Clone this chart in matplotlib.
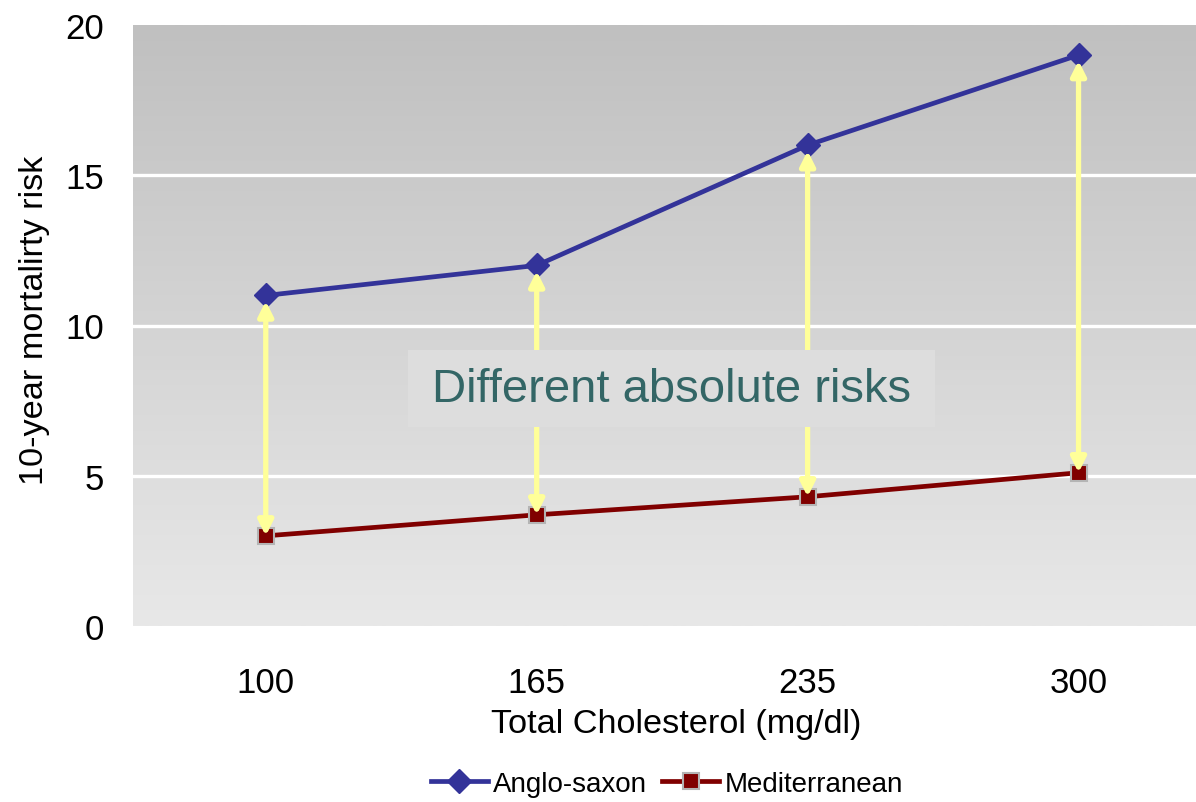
import numpy as np
import matplotlib
matplotlib.use("Agg")
import matplotlib.pyplot as plt
from matplotlib.patches import Rectangle

plt.rcParams['font.family'] = ['Liberation Sans', 'DejaVu Sans']

cholesterol = ["100", "165", "235", "300"]
anglo_saxon = [11, 12, 16, 19]
mediterranean = [3, 3.7, 4.3, 5.1]

fig = plt.figure(figsize=(11.96, 8.03), dpi=100)
W, H = 1196, 803
ax = fig.add_axes([133 / W, 1 - 627 / H, (1214 - 133) / W, (627 - 26) / H])

x = np.arange(len(cholesterol))
ax.set_xlim(-0.49, 3.5)
ax.set_ylim(0, 20)

# vertical grey gradient background
grad = np.linspace(0, 1, 256).reshape(-1, 1)
ax.imshow(grad, cmap=matplotlib.colors.LinearSegmentedColormap.from_list(
    "bg", ["#e8e8e8", "#c0c0c0"]), extent=[-0.49, 3.5, 0, 20],
    origin="lower", aspect="auto", zorder=0)

for v in [5, 10, 15]:
    ax.axhline(v, color="white", lw=2.4, zorder=1)

ax.plot(x, anglo_saxon, color="#333399", lw=3.4, marker="D", ms=12,
        mfc="#333399", mec="#333399", zorder=3, label="Anglo-saxon")
ax.plot(x, mediterranean, color="#800000", lw=3.4, marker="s", ms=11,
        mfc="#800000", mec="#b4b4b4", mew=1.5, zorder=3, label="Mediterranean")

# yellow double arrows between the two series
for i in x:
    ax.annotate("", xy=(i, mediterranean[i]), xytext=(i, anglo_saxon[i]),
                arrowprops=dict(arrowstyle="<|-|>", color="#ffff99", lw=3.8,
                                mutation_scale=22, shrinkA=4, shrinkB=0),
                zorder=4)

ax.add_patch(Rectangle((0.524, 6.62), 2.472 - 0.524, 9.18 - 6.62,
                       facecolor="#dddddd", edgecolor="none", zorder=5))
ax.text(1.498, 7.9, "Different absolute risks", color="#336666",
        fontsize=34, ha="center", va="center", zorder=6)

ax.set_xticks(x)
ax.set_xticklabels(cholesterol)
ax.set_yticks([0, 5, 10, 15, 20])
ax.tick_params(length=0, labelsize=25)
ax.tick_params(axis="y", pad=21)
ax.tick_params(axis="x", pad=29)
for s in ax.spines.values():
    s.set_visible(False)

fig.text(676 / W, 1 - 725 / H, "Total Cholesterol (mg/dl)", fontsize=24.7,
         ha="center", va="center")
fig.text(35 / W, 1 - 320 / H, "10-year mortalirty risk", fontsize=24.7,
         ha="center", va="center", rotation=90)

fig.legend(loc="center", bbox_to_anchor=(667 / W, 1 - 785 / H), ncol=2,
           frameon=False, fontsize=20, handlelength=2.05, columnspacing=0.55,
           handletextpad=0.2, borderaxespad=0)

fig.savefig("out.png", dpi=100)
